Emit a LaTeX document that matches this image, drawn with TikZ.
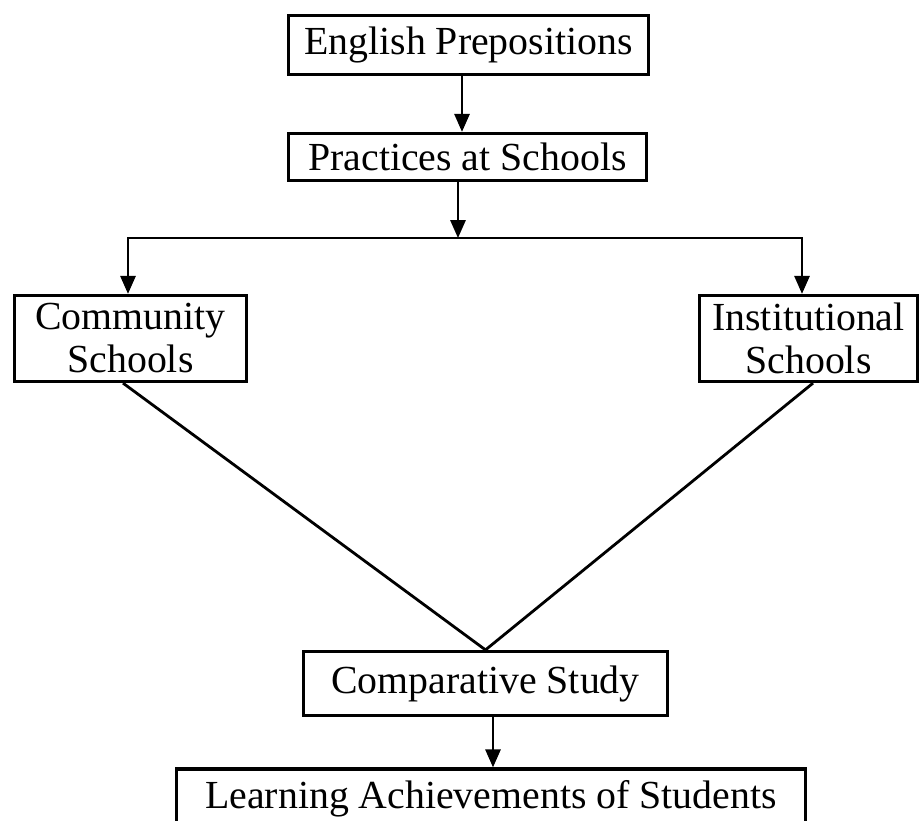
\documentclass[tikz,border=0pt]{standalone}
\usepackage{fontspec}
\setmainfont{Liberation Serif}
\usetikzlibrary{arrows.meta,calc}

\begin{document}
\begin{tikzpicture}[x=1pt,y=-1pt,
  box/.style={draw,line width=3.2pt,inner sep=0pt,align=center,
    font=\fontsize{39.8}{43}\selectfont},
  link/.style={line width=2.8pt},
  arr/.style={link,-{Triangle[width=15pt,length=18pt]}}]
  \useasboundingbox (0,0) rectangle (922,821);
  \begin{scope}
  \clip (0,0) rectangle (922,821);

  % boxes
  \node[box,minimum width=360pt,minimum height=59pt] (ep) at (468.5,45) {English Prepositions};
  \node[box,minimum width=358pt,minimum height=47pt] (ps) at (467.5,157) {Practices at Schools};
  \node[box,minimum width=232pt,minimum height=86pt] (cs) at (130.5,338.5) {Community\\Schools};
  \node[box,minimum width=218pt,minimum height=86pt] (is) at (808.5,338.5) {Institutional\\Schools};
  \node[box,minimum width=364pt,minimum height=64pt] (st) at (485.5,683.5) {Comparative Study};
  \node[box,minimum width=629pt,minimum height=60pt] (la) at (491,799) {Learning Achievements of Students};

  % branching connector
  \coordinate (split) at ($(ps.south)+(-9.5,56)$);
  \coordinate (apex) at (st.north);

  \draw[arr] ([xshift=-6.5pt]ep.south) -- ([xshift=-6.5pt]ep.south |- ps.north);
  \draw[arr] ([xshift=-9.5pt]ps.south) -- (split);
  \draw[arr] (split) -| ([xshift=-2.5pt]cs.north);
  \draw[arr] (split) -| ([xshift=-6.5pt]is.north);

  \draw[link] ([xshift=-7.5pt]cs.south) -- (apex);
  \draw[link] ([xshift=4.5pt]is.south) -- (apex);

  \draw[arr] ([xshift=7.5pt]st.south) -- ([xshift=7.5pt]st.south |- la.north);
  \end{scope}
\end{tikzpicture}
\end{document}
